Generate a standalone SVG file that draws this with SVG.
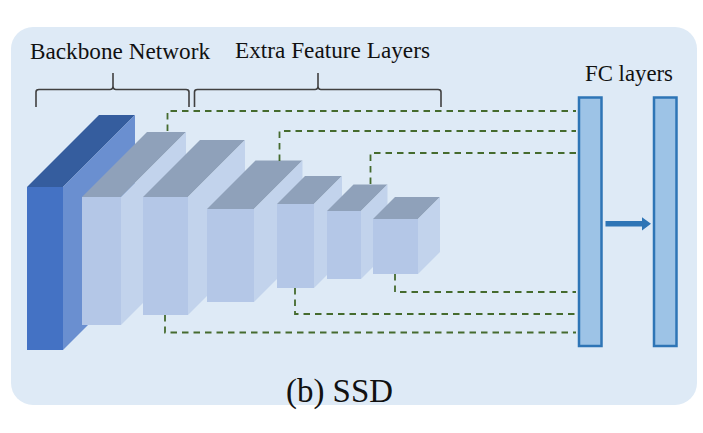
<svg xmlns="http://www.w3.org/2000/svg" width="703" height="433" viewBox="0 0 703 433">
<style>
.lbl{font-family:"Liberation Serif","Times New Roman",serif;fill:#111;}
.front{fill:#B4C7E7;}
.top{fill:#8FA1BA;}
.side{fill:#C2D3EC;}
.brace{fill:none;stroke:#404040;stroke-width:1.6;}
.dash{fill:none;stroke:#456B2E;stroke-width:1.8;stroke-dasharray:6.5 5;}
.fc{fill:#9DC3E6;stroke:#2E75B6;stroke-width:2.5;}
</style>
<rect x="11" y="27" width="686" height="378" rx="22" ry="22" fill="#DEEAF6"/>
<g id="labels">
<text class="lbl" x="30" y="59" font-size="22.5" textLength="180" lengthAdjust="spacingAndGlyphs">Backbone Network</text>
<text class="lbl" x="235" y="58" font-size="22.5" textLength="195" lengthAdjust="spacingAndGlyphs">Extra Feature Layers</text>
<text class="lbl" x="585" y="81" font-size="22.5" textLength="88" lengthAdjust="spacingAndGlyphs">FC layers</text>
<text class="lbl" x="286" y="402" font-size="33" textLength="107" lengthAdjust="spacingAndGlyphs">(b) SSD</text>
</g>
<g id="braces">
<path class="brace" d="M36,107 V92 Q36,89.5 39,89.5 H110 Q113,89.5 113,86 V73 M113,86 Q113,89.5 116,89.5 H186 Q189,89.5 189,92 V107"/>
<path class="brace" d="M194.5,107 V92 Q194.5,89.5 197.5,89.5 H315 Q318,89.5 318,86 V73 M318,86 Q318,89.5 321,89.5 H438 Q441,89.5 441,92 V107"/>
</g>
<g id="block1">
<rect x="27" y="187" width="36" height="163" fill="#4472C4"/>
<polygon points="27,187 63,187 135,115 99,115" fill="#355D9E"/>
<polygon points="63,187 135,115 135,278 63,350" fill="#6A8FD0"/>
</g>
<g id="block2">
<rect class="front" x="82" y="197" width="39" height="128"/>
<polygon class="top" points="82,197 121,197 186,132 147,132"/>
<polygon class="side" points="121,197 186,132 186,260 121,325"/>
</g>
<g id="block3">
<rect class="front" x="143" y="197" width="45" height="118"/>
<polygon class="top" points="143,197 188,197 245,140 200,140"/>
<polygon class="side" points="188,197 245,140 245,258 188,315"/>
</g>
<g id="block4">
<rect class="front" x="207" y="209" width="47" height="93"/>
<polygon class="top" points="207,209 254,209 302.5,160.5 255.5,160.5"/>
<polygon class="side" points="254,209 302.5,160.5 302.5,253.5 254,302"/>
</g>
<g id="block5">
<rect class="front" x="277" y="204" width="37" height="84"/>
<polygon class="top" points="277,204 314,204 342,176 305,176"/>
<polygon class="side" points="314,204 342,176 342,260 314,288"/>
</g>
<g id="block6">
<rect class="front" x="327" y="211" width="34" height="68"/>
<polygon class="top" points="327,211 361,211 387.5,184.5 353.5,184.5"/>
<polygon class="side" points="361,211 387.5,184.5 387.5,252.5 361,279"/>
</g>
<g id="block7">
<rect class="front" x="373" y="219" width="45" height="55"/>
<polygon class="top" points="373,219 418,219 440,197 395,197"/>
<polygon class="side" points="418,219 440,197 440,252 418,274"/>
</g>
<g id="fc1"><rect class="fc" x="579" y="97.5" width="22.5" height="248.5"/></g>
<g id="fc2"><rect class="fc" x="654" y="97.5" width="22.5" height="248.5"/></g>
<g id="connectors">
<path class="dash" d="M167.5,131 V111 H576"/>
<path class="dash" d="M279.5,161 V131 H576"/>
<path class="dash" d="M370.5,184 V153 H576"/>
<path class="dash" d="M395,274 V292 H576"/>
<path class="dash" d="M295,288 V314 H576"/>
<path class="dash" d="M165,315 V332.5 H576"/>
<polygon points="605.5,221 642,221 642,217.3 651,223.7 642,230.5 642,226.5 605.5,226.5" fill="#2E75B6"/>
</g>
</svg>
